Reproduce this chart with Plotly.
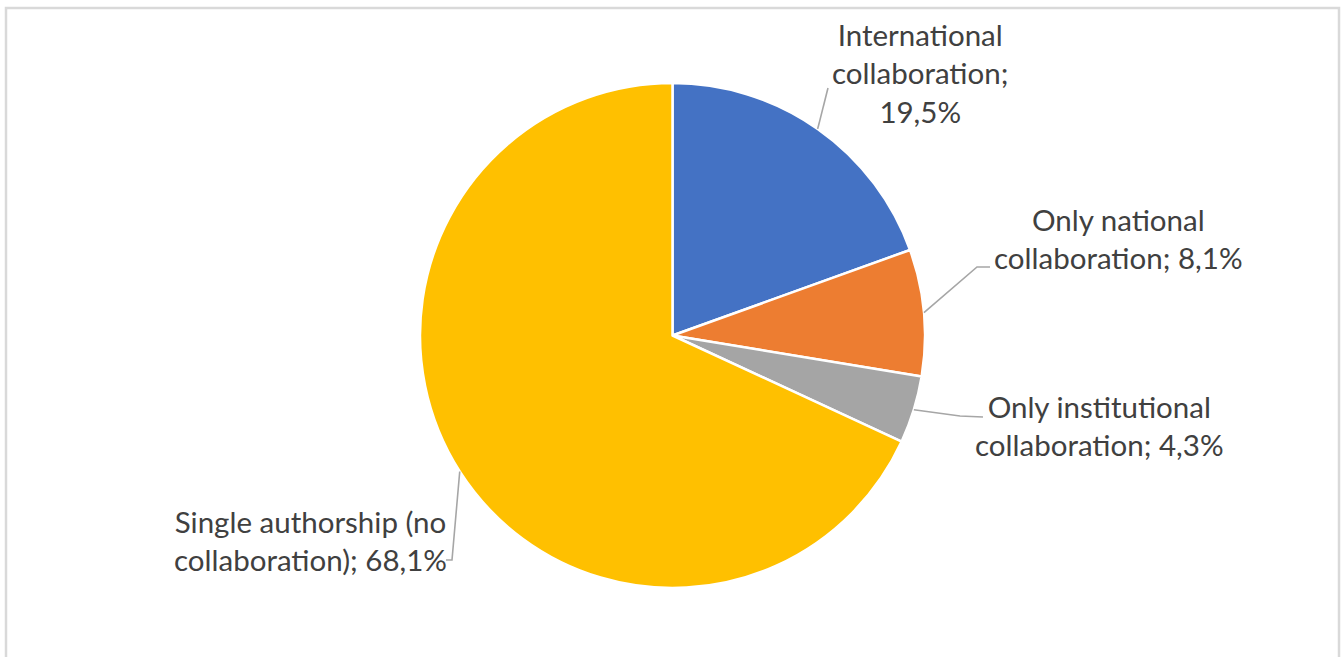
import math
import plotly.graph_objects as go

# ---- data ----
categories = ["International collaboration", "Only national collaboration",
              "Only institutional collaboration", "Single authorship (no collaboration)"]
label_text = ["International<br>collaboration;<br>19,5%",
              "Only national<br>collaboration; 8,1%",
              "Only institutional<br>collaboration; 4,3%",
              "Single authorship (no<br>collaboration); 68,1%"]
values = [19.5, 8.1, 4.3, 68.1]
colors = ["#4472C4", "#ED7D31", "#A5A5A5", "#FFC000"]

# ---- layout constants (pixels) ----
W, H = 1343, 657
CX, CY, R = 672.5, 335.5, 252.5
FONT = "Lato"
FSIZE = 29.5
TXT = "#404040"

# label block centers and leader-line end paths (pixels)
label_pos = [(920, 73), (1118, 238), (1099, 425), (310, 540)]
leader_tail = [
    [(828, 88)],
    [(977, 267), (990, 267)],
    [(960, 416), (983, 417)],
    [(452, 560), (446, 560)],
]

def px(x):
    return x / W

def py(y):
    return 1 - y / H

fig = go.Figure()
fig.add_trace(go.Pie(
    labels=categories, values=values, sort=False, direction="clockwise", rotation=0,
    marker=dict(colors=colors, line=dict(color="white", width=2.5)),
    textinfo="none", hoverinfo="label+percent", showlegend=False,
    domain=dict(x=[px(CX - R), px(CX + R)], y=[py(CY + R), py(CY - R)]),
))

shapes = [dict(type="rect", xref="paper", yref="paper",
               x0=px(6), x1=px(1339), y0=-0.2, y1=py(8),
               line=dict(color="#D9D9D9", width=2.5), fillcolor="rgba(0,0,0,0)")]

total = sum(values)
cum = 0.0
annotations = []
for i, v in enumerate(values):
    mid = (cum + v / 2) / total * 2 * math.pi
    cum += v
    sx = CX + R * math.sin(mid)
    sy = CY - R * math.cos(mid)
    pts = [(sx, sy)] + leader_tail[i]
    path = "M " + " L ".join(f"{px(x):.5f},{py(y):.5f}" for x, y in pts)
    shapes.append(dict(type="path", xref="paper", yref="paper", path=path,
                       line=dict(color="#A6A6A6", width=1.6)))
    lx, ly = label_pos[i]
    annotations.append(dict(x=px(lx), y=py(ly), xref="paper", yref="paper",
                            text=label_text[i], showarrow=False, align="center",
                            xanchor="center", yanchor="middle",
                            font=dict(family=FONT, size=FSIZE, color=TXT)))

fig.update_layout(width=W, height=H, margin=dict(l=0, r=0, t=0, b=0),
                  paper_bgcolor="white", plot_bgcolor="white",
                  shapes=shapes, annotations=annotations)
fig.write_html("out.html", config={"displayModeBar": False},
               post_script="document.body.style.margin='0';document.body.style.overflow='hidden';")
